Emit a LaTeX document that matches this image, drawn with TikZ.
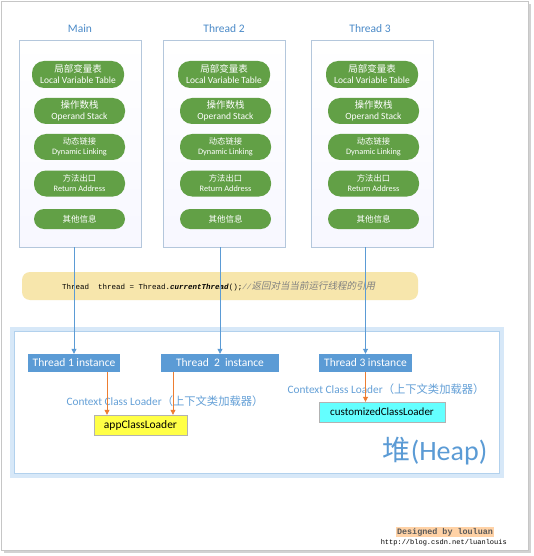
\documentclass[tikz,border=0pt]{standalone}
\usepackage{fontspec}
\setmainfont{Carlito}
\setmonofont{Liberation Mono}
\newfontfamily\cjk{Noto Sans CJK SC}
\newfontfamily\cjkit[FakeSlant=0.2]{Noto Sans CJK SC}
\usetikzlibrary{arrows.meta}
\definecolor{pillgreen}{RGB}{98,160,70}
\definecolor{instblue}{RGB}{91,155,213}
\definecolor{titleblue}{RGB}{74,138,200}
\definecolor{lblblue}{RGB}{100,160,215}
\definecolor{colborder}{RGB}{180,199,220}
\definecolor{codebar}{RGB}{247,230,172}
\definecolor{arrorange}{RGB}{237,125,49}
\definecolor{appyellow}{RGB}{255,255,70}
\definecolor{custcyan}{RGB}{100,255,255}
\definecolor{heapglow}{RGB}{215,232,248}
\tikzset{
  colbox/.style={draw=colborder, line width=0.6pt, top color=white, bottom color=blue!3, minimum width=122pt, minimum height=207pt, inner sep=0pt},
  coltitle/.style={text=titleblue, font=\fontsize{11.5}{13}\selectfont},
  pill/.style={fill=pillgreen, text=white, rounded corners=12pt, minimum width=91pt, minimum height=26pt, inner sep=0pt, align=center, font=\fontsize{9.5}{11}\selectfont},
  pillsm/.style={pill, font=\fontsize{8.3}{10}\selectfont},
  inst/.style={fill=instblue, text=white, minimum height=18pt, inner sep=0pt, font=\fontsize{11.5}{13}\selectfont},
  loader/.style={draw=gray!60, line width=0.4pt, minimum height=20pt, inner sep=0pt, font=\fontsize{11.5}{13}\selectfont},
  blarrow/.style={draw=instblue, line width=0.8pt, -{Triangle[length=5pt,width=5pt]}},
  orarrow/.style={draw=arrorange, line width=0.8pt, -{Triangle[length=5pt,width=5pt]}},
  ctxlbl/.style={text=lblblue, font=\fontsize{11.3}{13}\selectfont, inner sep=0pt}
}
\begin{document}
\begin{tikzpicture}[x=1pt,y=-1pt]
\useasboundingbox (0,0) rectangle (533,556);
% outer frame with shadow
\fill[gray!35] (4,4) rectangle (531,553);
\filldraw[fill=white, draw=gray!45, line width=0.5pt] (1,1) rectangle (528,550);

% columns
\node[colbox] (main) at (80,143.5) {};
\node[colbox] (th2) at (224,143.5) {};
\node[colbox] (th3) at (372.5,143.5) {};
\node[coltitle] (tmain) at (80,29) {Main};
\node[coltitle] (tth2) at (224,29) {Thread 2};
\node[coltitle] (tth3) at (370,29) {Thread 3};

% pills
\foreach \c/\n in {78/m,224/b,372/c}{
  \node[pill, minimum width=92pt, minimum height=27pt] (\n1) at (\c,74.5) {{\cjk 局部变量表}\\Local Variable Table};
  \node[pill] (\n2) at (\c+1.5,111) {{\cjk 操作数栈}\\Operand Stack};
  \node[pillsm] (\n3) at (\c+1.5,147) {{\cjk 动态链接}\\Dynamic Linking};
  \node[pillsm] (\n4) at (\c+1.5,183.5) {{\cjk 方法出口}\\Return Address};
  \node[pill, minimum height=20pt, rounded corners=10pt, font=\fontsize{8.5}{10}\selectfont] (\n5) at (\c+1.5,219) {\cjk 其他信息};
}

% code bar
\node[fill=codebar, rounded corners=8pt, minimum width=396pt, minimum height=28pt, inner sep=0pt] (code) at (220,286) {};
\node[inner sep=0pt, anchor=west] (codetxt) at (62,286) {\fontsize{7.5}{9}\selectfont\ttfamily Thread\ \ thread = Thread.\textit{\textbf{currentThread}}();{\color{gray}\textit{//}\cjkit\fontsize{9.5}{10}\selectfont 返回对当当前运行线程的引用}};

% heap box
\draw[heapglow, line width=4pt] (12,329) rectangle (502,476);
\filldraw[fill=white, draw=heapglow!70!instblue, line width=0.4pt] (14,331) rectangle (499,473);
\node[text=instblue, font=\fontsize{28}{32}\selectfont, inner sep=0pt] (heap) at (435,451) {{\cjk 堆}(Heap)};

% thread instances
\node[inst, minimum width=92pt] (t1) at (74,363) {Thread 1 instance};
\node[inst, minimum width=118pt] (t2) at (220,363) {Thread\ \ 2\ \ instance};
\node[inst, minimum width=93pt] (t3) at (365.5,363) {Thread 3 instance};

% loaders
\node[loader, fill=appyellow, minimum width=93pt] (app) at (140.5,425) {appClassLoader};
\node[loader, fill=custcyan, minimum width=126pt, font=\fontsize{11}{13}\selectfont] (cust) at (382,412) {customizedClassLoader};

% labels
\node[ctxlbl] (ctx1) at (165,401) {Context Class Loader{\cjk （上下文类加载器）}};
\node[ctxlbl] (ctx2) at (386,389.5) {Context Class Loader{\cjk （上下文类加载器）}};

% blue arrows
\draw[blarrow] (t1.north |- main.south) -- (t1.north);
\draw[blarrow] (t2.north |- th2.south) -- (t2.north);
\draw[blarrow] (t3.north |- th3.south) -- (t3.north);

% orange arrows
\coordinate (o1) at (107,0);
\coordinate (o2) at (173,0);
\draw[orarrow] (o1 |- t1.south) -- (o1 |- app.north);
\draw[orarrow] (o2 |- t2.south) -- (o2 |- app.north);
\draw[orarrow] (t3.south) -- (t3.south |- cust.north);

% signature
\node[fill=orange!35, inner sep=1pt, font=\fontsize{8.4}{9}\selectfont\ttfamily\bfseries, text=gray!70!black] (sig) at (445,532) {Designed by louluan};
\node[inner sep=0pt, font=\fontsize{7}{8}\selectfont\ttfamily, anchor=east] (url) at (507,543) {http://blog.csdn.net/luanlouis};
\end{tikzpicture}
\end{document}
